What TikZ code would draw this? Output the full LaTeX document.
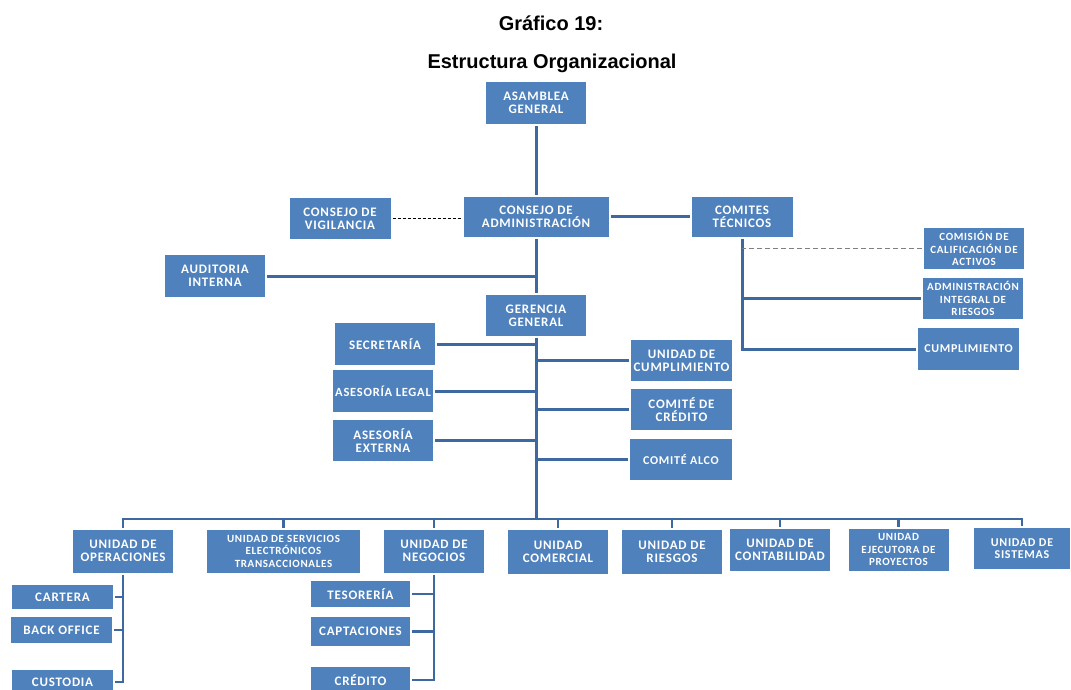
\documentclass[tikz,border=0pt]{standalone}
\usepackage{fontspec}
\usepackage{tikz}
\usetikzlibrary{positioning}
\newfontfamily\titlefont{Liberation Sans}
\newfontfamily\boxfont[LetterSpace=6]{Carlito}
\definecolor{boxblue}{RGB}{79,129,189}
\definecolor{lineblue}{RGB}{62,104,160}

\begin{document}
\begin{tikzpicture}
	[x=1pt,y=-1pt,
	 box/.style={rectangle,fill=boxblue,text=white,align=center,inner sep=0pt,outer sep=2pt,
	   minimum width=100pt,minimum height=42pt,font=\boxfont\bfseries\fontsize{13}{12.8}\selectfont},
	 small/.style={font=\boxfont\bfseries\fontsize{11}{12.5}\selectfont},
	 mid/.style={font=\boxfont\bfseries\fontsize{12}{12.5}\selectfont},
	 link/.style={draw=lineblue,line width=3pt},
	 stub/.style={draw=lineblue,line width=2.5pt},
	 title/.style={font=\titlefont\bfseries\fontsize{20}{24}\selectfont,anchor=base}]
	\useasboundingbox (0,0) rectangle (1071,689);
	\clip (0,0) rectangle (1071,689);

	\node[title] (titulo) at (551,30) {Gráfico 19:};
	\node[title] (subtitulo) at (552,68) {Estructura Organizacional};

	% top of the chart
	\node[box] (asamblea) at (536,103) {ASAMBLEA\\GENERAL};
	\node[box,minimum width=145pt,minimum height=40pt] (admin) at (536,216.5) {CONSEJO DE\\ADMINISTRACIÓN};
	\node[box,minimum width=101pt,minimum height=41pt] (vigilancia) at (340,218.5) {CONSEJO DE\\VIGILANCIA};
	\node[box,minimum width=101pt,minimum height=40pt] (comites) at (742,216.5) {COMITES\\TÉCNICOS};
	\node[box] (auditoria) at (215,276) {AUDITORIA\\INTERNA};
	\node[box,minimum height=41pt] (gerencia) at (536,315.5) {GERENCIA\\GENERAL};

	% staff of the gerencia
	\node[box] (secretaria) at (385,344) {SECRETARÍA};
	\node[box,font=\boxfont\bfseries\fontsize{12.5}{12.5}\selectfont] (legal) at (383,391) {ASESORÍA LEGAL};
	\node[box,minimum height=41pt] (externa) at (383,440.5) {ASESORÍA\\EXTERNA};
	\node[box,minimum width=101pt,minimum height=41pt] (ucumpl) at (681.5,360.5) {UNIDAD DE\\CUMPLIMIENTO};
	\node[box,minimum width=101pt,minimum height=41pt] (ccredito) at (681.5,409.5) {COMITÉ DE\\CRÉDITO};
	\node[box,mid,minimum width=102pt,minimum height=41pt] (alco) at (681,459.5) {COMITÉ ALCO};

	% comites tecnicos
	\node[box,small,minimum height=41pt] (comision) at (974,248.5) {COMISIÓN DE\\CALIFICACIÓN DE\\ACTIVOS};
	\node[box,small,minimum height=41pt] (integral) at (973,298.5) {ADMINISTRACIÓN\\INTEGRAL DE\\RIESGOS};
	\node[box,mid,minimum width=101pt] (cumpl) at (968.5,349) {CUMPLIMIENTO};

	% unidades
	\node[box,minimum height=43pt] (operaciones) at (123,551) {UNIDAD DE\\OPERACIONES};
	\node[box,small,minimum width=153pt,minimum height=43pt] (servicios) at (283.5,551) {UNIDAD DE SERVICIOS\\ELECTRÓNICOS\\TRANSACCIONALES};
	\node[box,minimum height=43pt] (negocios) at (434,551) {UNIDAD DE\\NEGOCIOS};
	\node[box,minimum height=44pt] (comercial) at (558,551.5) {UNIDAD\\COMERCIAL};
	\node[box,minimum height=44pt] (riesgos) at (672,551.5) {UNIDAD DE\\RIESGOS};
	\node[box,minimum height=42pt] (contabilidad) at (780,549.5) {UNIDAD DE\\CONTABILIDAD};
	\node[box,small,minimum height=42pt] (ejecutora) at (898.5,549.5) {UNIDAD\\EJECUTORA DE\\PROYECTOS};
	\node[box,mid,minimum width=96pt,minimum height=41pt] (sistemas) at (1022,548.5) {UNIDAD DE\\SISTEMAS};

	\node[box,minimum width=101pt,minimum height=24pt] (cartera) at (62.5,597) {CARTERA};
	\node[box,minimum width=101pt,minimum height=26pt] (backoffice) at (61.5,630) {BACK OFFICE};
	\node[box,minimum width=101pt,minimum height=24pt] (custodia) at (62.5,682) {CUSTODIA};
	\node[box,minimum width=99pt,minimum height=26pt] (tesoreria) at (360.5,594) {TESORERÍA};
	\node[box,minimum width=99pt,minimum height=29pt] (captaciones) at (360.5,631.5) {CAPTACIONES};
	\node[box,minimum width=99pt,minimum height=26pt] (credito) at (360.5,680) {CRÉDITO};

	\coordinate (bus) at (536,519);

	% lines
	\draw[link] (asamblea) -- (admin);
	\draw[link] (admin) -- (gerencia);
	\draw[link] (admin) -- (comites);
	\draw[dashed,black,line width=1pt,dash pattern=on 3pt off 2pt] (vigilancia) -- (vigilancia -| admin.west);
	\draw[link] (auditoria) -- (auditoria -| admin);
	\draw[link] (gerencia) -- (gerencia |- bus);
	\foreach \u in {secretaria,legal,externa,ucumpl,ccredito,alco}
		\draw[link] (\u) -- (\u -| gerencia);

	\draw[link] (comites) -- (comites |- cumpl) -- (cumpl);
	\draw[link] (integral) -- (integral -| comites);
	\draw[gray,line width=1.5pt,dash pattern=on 5pt off 3pt] (comision) -- (comision -| comites);

	\draw[stub] (operaciones.north) -- (operaciones.north |- bus) -- (sistemas.north |- bus) -- (sistemas.north);
	\foreach \u in {servicios,negocios,comercial,riesgos,contabilidad,ejecutora}
		\draw[stub] (bus -| \u.north) -- (\u.north);

	\draw[stub] (operaciones) -- (operaciones |- custodia) -- (custodia);
	\foreach \u in {cartera,backoffice}
		\draw[stub] (\u) -- (\u -| operaciones);
	\draw[stub] (negocios) -- (negocios |- credito) -- (credito);
	\foreach \u in {tesoreria,captaciones}
		\draw[stub] (\u) -- (\u -| negocios);
\end{tikzpicture}
\end{document}
